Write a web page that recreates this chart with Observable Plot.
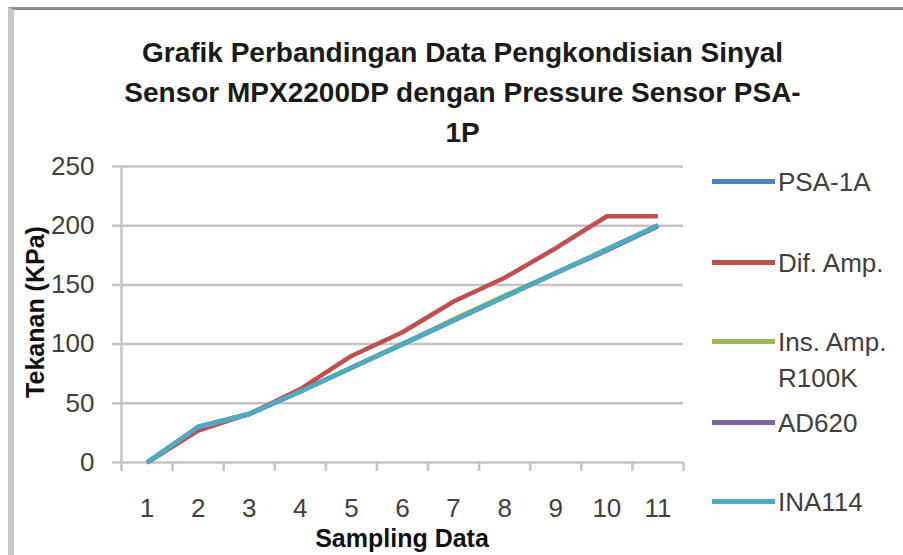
<!DOCTYPE html>
<html><head><meta charset="utf-8">
<script src="https://cdn.jsdelivr.net/npm/d3@7"></script>
<script src="https://cdn.jsdelivr.net/npm/@observablehq/plot@0.6"></script>
<style>
body{margin:0;background:#fff;}
#wrap{position:relative;width:903px;height:555px;overflow:hidden;font-family:"Liberation Sans",Arial,sans-serif;background:#fff;}
#frame{position:absolute;left:8px;top:7px;width:895px;height:548px;border-top:3px solid #8c8c8c;border-left:6px solid #c8c8c8;box-sizing:border-box;}
#title{position:absolute;left:0;width:925px;top:33px;text-align:center;font-weight:bold;font-size:28px;line-height:40px;color:#1a1a1a;white-space:nowrap;}
#plot{position:absolute;left:0;top:150px;}
.axt{position:absolute;font-weight:bold;font-size:25px;color:#111;white-space:nowrap;transform-origin:center;}
#legend .item{position:absolute;left:712px;font-size:26px;line-height:36px;color:#404040;white-space:nowrap;}
#legend .sw{position:absolute;left:0;width:63px;height:5px;}
#legend .lab{position:absolute;left:66px;top:0;}
</style>
</head><body>
<div id="wrap">
  <div id="frame"></div>
  <div id="title">Grafik Perbandingan Data Pengkondisian Sinyal<br>Sensor MPX2200DP dengan Pressure Sensor PSA-<br>1P</div>
  <div id="plot"></div>
  <div class="axt" id="ytitle" style="left:35px;top:312px;transform:translate(-50%,-50%) rotate(-90deg);">Tekanan (KPa)</div>
  <div class="axt" id="xtitle" style="left:402px;top:538px;transform:translate(-50%,-50%);">Sampling Data</div>
  <div id="legend"></div>
</div>
<script>
const samples = [1,2,3,4,5,6,7,8,9,10,11];
const seriesNames = ["PSA-1A","Dif. Amp.","Ins. Amp. R100K","AD620","INA114"];
const psa1a  = [0,30,41,60,80,100,120,140,160,180,200];
const difAmp = [0,27,41,62,90,110,136,156,181,208,208];
const insAmp = [0,30,41,60,80,100,121,141,160,180,200];
const ad620  = [0,30,41,60,80,100,120,140,160,179,199.5];
const ina114 = [0,30,41,60,80,100,120,140,160,180,200.5];
const yTicks = [0,50,100,150,200,250];
const colors = ["#4F81BD","#C0504D","#9BBB59","#8064A2","#4BACC6"];

const allSeries = [psa1a, difAmp, insAmp, ad620, ina114];
const data = [];
allSeries.forEach((vals, si) => vals.forEach((v, i) => data.push({series: seriesNames[si], x: samples[i], y: v})));
const bounds = [samples[0] - 0.5, ...samples.map(s => s + 0.5)];

const grid = "#c4c4c4";
const chart = Plot.plot({
  width: 903, height: 405,
  marginTop: 16, marginBottom: 93, marginLeft: 121, marginRight: 220,
  style: {fontFamily: '"Liberation Sans", Arial, sans-serif', fontSize: "26px", background: "transparent", overflow: "visible"},
  x: {type: "linear", domain: [bounds[0], bounds[bounds.length-1]]},
  y: {domain: [0, 250]},
  color: {domain: seriesNames, range: colors},
  marks: [
    Plot.ruleY(yTicks, {stroke: grid, strokeWidth: 2.5}),
    Plot.axisY({ticks: yTicks, tickSize: 9, tickPadding: 18, stroke: grid, strokeWidth: 2.5, fill: "#404040", fontSize: 26, label: null}),
    Plot.ruleX([bounds[0]], {stroke: grid, strokeWidth: 2.5}),
    Plot.axisX({ticks: bounds, tickSize: 9, tickFormat: () => "", stroke: grid, strokeWidth: 2.5, label: null}),
    Plot.axisX({ticks: samples, tickSize: 0, tickPadding: 36, fill: "#404040", fontSize: 26, label: null}),
    Plot.line(data, {x: "x", y: "y", z: "series", stroke: "series", strokeWidth: 4.5, strokeLinejoin: "round", strokeLinecap: "butt"})
  ]
});
document.getElementById("plot").appendChild(chart);

// legend
const legendTops = [182, 263, 342, 423, 502];
const leg = document.getElementById("legend");
seriesNames.forEach((name, i) => {
  const item = document.createElement("div");
  item.className = "item";
  item.style.top = (legendTops[i] - 17.7) + "px";
  const sw = document.createElement("div");
  sw.className = "sw";
  sw.style.background = colors[i];
  sw.style.top = (17.7 - 2.5) + "px";
  const lab = document.createElement("div");
  lab.className = "lab";
  lab.innerHTML = name === "Ins. Amp. R100K" ? "Ins. Amp.<br>R100K" : name;
  item.appendChild(sw); item.appendChild(lab);
  leg.appendChild(item);
});
</script>
</body></html>
